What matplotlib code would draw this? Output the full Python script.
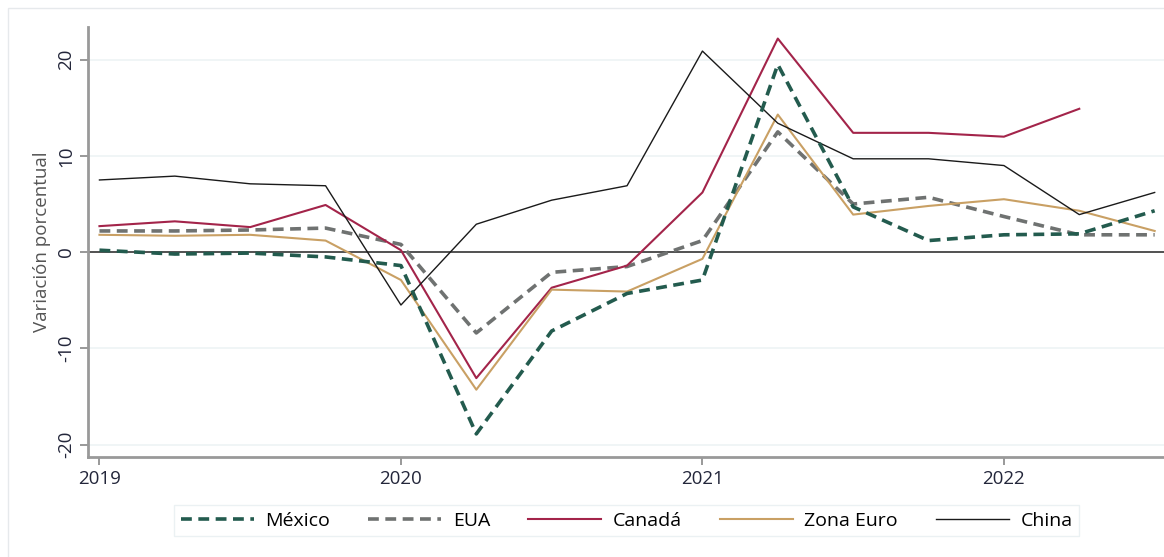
import numpy as np
import matplotlib.pyplot as plt
from matplotlib.patches import Rectangle

plt.rcParams['font.family'] = ['Open Sans', 'DejaVu Sans']

# Quarterly data, 2019Q1 - 2022Q3
quarters = np.arange(2019, 2022.51, 0.25)

mexico = [0.2, -0.2, -0.1, -0.5, -1.4, -18.9, -8.2, -4.3, -2.9, 19.5, 4.7, 1.2, 1.8, 1.9, 4.3]
eua = [2.2, 2.2, 2.3, 2.5, 0.8, -8.4, -2.1, -1.5, 1.2, 12.5, 5.0, 5.7, 3.7, 1.8, 1.8]
canada = [2.7, 3.2, 2.6, 4.9, 0.2, -13.1, -3.7, -1.4, 6.2, 22.2, 12.4, 12.4, 12.0, 14.9]
zona_euro = [1.8, 1.7, 1.8, 1.2, -2.9, -14.3, -3.9, -4.1, -0.7, 14.3, 3.9, 4.8, 5.5, 4.3, 2.2]
china = [7.5, 7.9, 7.1, 6.9, -5.5, 2.9, 5.4, 6.9, 20.9, 13.4, 9.7, 9.7, 9.0, 3.9, 6.2]

year_ticks = [2019, 2020, 2021, 2022]
y_ticks = [-20, -10, 0, 10, 20]

fig = plt.figure(figsize=(11.64, 5.57), dpi=100)
ax = fig.add_axes([0.0756, 0.1795, 0.9244, 0.772])

# faint outer frame of the chart
fig.patches.append(Rectangle((8 / 1164, -0.1), 1.2, 1 - 8 / 557 + 0.1, transform=fig.transFigure,
                             fill=False, edgecolor='#e6e9ec', linewidth=1.0))

# gridlines and zero line
for v in [-20, -10, 10, 20]:
    ax.axhline(v, color='#eef3f5', linewidth=1.2, zorder=0)
ax.axhline(0, color='#222222', linewidth=1.1, zorder=1)

ax.plot(quarters, mexico, color='#235B4E', linewidth=2.6, dashes=(3, 1.8), label='México', zorder=4)
ax.plot(quarters, eua, color='#6F7271', linewidth=2.6, dashes=(3, 1.8), label='EUA', zorder=3)
ax.plot(quarters[:len(canada)], canada, color='#A3244A', linewidth=1.5, label='Canadá', zorder=3)
ax.plot(quarters, zona_euro, color='#C9A064', linewidth=1.5, label='Zona Euro', zorder=3)
ax.plot(quarters, china, color='#1a1a1a', linewidth=1.0, label='China', zorder=3)

ax.set_xlim(2018.962, 2022.531)
ax.set_ylim(-21.3, 23.4)

ax.set_xticks(year_ticks)
ax.set_xticklabels([str(y) for y in year_ticks], fontsize=13.5, color='#23263a')
ax.set_yticks(y_ticks)
ax.set_yticklabels([str(v) for v in y_ticks], fontsize=13.5, color='#23263a',
                   rotation=90, va='center')
ax.tick_params(axis='both', direction='out', length=6, width=1.2, color='#888888', pad=3)

ax.set_ylabel('Variación porcentual', fontsize=13.5, color='#555555', labelpad=5)

for s in ['top', 'right']:
    ax.spines[s].set_visible(False)
for s in ['left', 'bottom']:
    ax.spines[s].set_color('#999999')
    ax.spines[s].set_linewidth(2.0)

leg = fig.legend(loc='center', bbox_to_anchor=(0.5385, 0.0655), ncol=5, fontsize=14,
                 frameon=True, fancybox=False, edgecolor='#e6eef0', handlelength=3.75,
                 columnspacing=1.95, handletextpad=0.6, borderpad=0.35)
leg.get_frame().set_linewidth(1.0)

fig.savefig('out.png', dpi=100)
